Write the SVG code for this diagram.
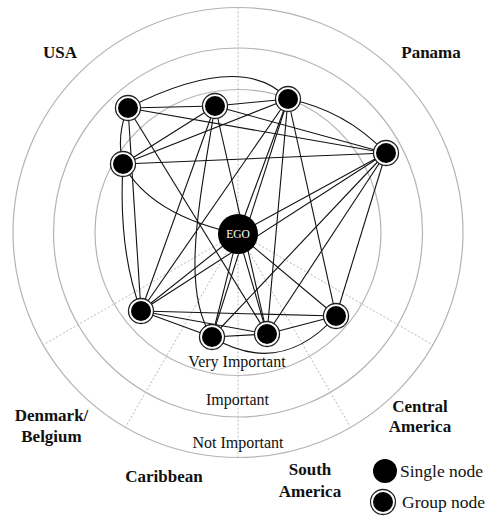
<svg xmlns="http://www.w3.org/2000/svg" width="490" height="521" viewBox="0 0 490 521">
  <style>
    .ring { fill: none; stroke: #b4b4b4; stroke-width: 1.2; }
    .sector { fill: none; stroke: #b8b8b8; stroke-width: 1; stroke-dasharray: 2 2; }
    .edge { fill: none; stroke: #111; stroke-width: 1.1; }
    .region { font-family: "Liberation Serif", "Times New Roman", serif; font-weight: bold; font-size: 17px; fill: #111; text-anchor: middle; }
    .level { font-family: "Liberation Serif", "Times New Roman", serif; font-size: 16px; fill: #111; text-anchor: middle; }
    .legend { font-family: "Liberation Serif", "Times New Roman", serif; font-size: 17.5px; fill: #111; }
    .halo { fill: #fff; stroke: #222; stroke-width: 1.3; }
    .dot { fill: #000; }
  </style>
  <defs>
    <g id="group-node">
      <circle class="halo" r="12.5"/>
      <circle class="dot" r="10"/>
    </g>
  </defs>
  <rect width="490" height="521" fill="#fff"/>

  <!-- importance rings -->
  <g id="rings">
    <circle class="ring" cx="238" cy="232.5" r="225"/>
    <circle class="ring" cx="238" cy="232.5" r="184.5"/>
    <circle class="ring" cx="238" cy="232.5" r="143"/>
  </g>

  <!-- region dividers -->
  <g id="sectors">
    <line class="sector" x1="238" y1="7.5" x2="238" y2="457.5"/>
    <line class="sector" x1="238" y1="232.5" x2="433" y2="345"/>
    <line class="sector" x1="238" y1="232.5" x2="350.5" y2="427"/>
    <line class="sector" x1="238" y1="232.5" x2="125.5" y2="427"/>
    <line class="sector" x1="238" y1="232.5" x2="43" y2="345"/>
  </g>

  <!-- ties -->
  <g id="connectors">
    <line class="edge" x1="128" y1="108" x2="215" y2="106"/>
    <path class="edge" d="M128,108 Q242,50 288,99"/>
    <path class="edge" d="M128,108 Q116,135 123,164"/>
    <line class="edge" x1="128" y1="108" x2="386" y2="153"/>
    <line class="edge" x1="128" y1="108" x2="141" y2="311"/>
    <line class="edge" x1="128" y1="108" x2="267" y2="334"/>

    <line class="edge" x1="215" y1="106" x2="288" y2="99"/>
    <line class="edge" x1="215" y1="106" x2="123" y2="164"/>
    <line class="edge" x1="215" y1="106" x2="386" y2="153"/>
    <line class="edge" x1="215" y1="106" x2="141" y2="311"/>
    <line class="edge" x1="215" y1="106" x2="267" y2="334"/>
    <path class="edge" d="M215,106 C200,200 180,290 212,337"/>

    <line class="edge" x1="288" y1="99" x2="123" y2="164"/>
    <path class="edge" d="M288,99 Q345,110 386,153"/>
    <line class="edge" x1="288" y1="99" x2="141" y2="311"/>
    <line class="edge" x1="288" y1="99" x2="212" y2="337"/>
    <line class="edge" x1="288" y1="99" x2="267" y2="334"/>
    <line class="edge" x1="288" y1="99" x2="336" y2="316"/>
    <line class="edge" x1="288" y1="99" x2="238" y2="234"/>

    <line class="edge" x1="123" y1="164" x2="386" y2="153"/>
    <path class="edge" d="M123,164 Q118,250 141,311"/>
    <path class="edge" d="M123,164 Q150,215 238,234"/>

    <line class="edge" x1="386" y1="153" x2="141" y2="311"/>
    <line class="edge" x1="386" y1="153" x2="212" y2="337"/>
    <line class="edge" x1="386" y1="153" x2="267" y2="334"/>
    <line class="edge" x1="386" y1="153" x2="336" y2="316"/>
    <line class="edge" x1="386" y1="153" x2="238" y2="234"/>

    <line class="edge" x1="141" y1="311" x2="212" y2="337"/>
    <line class="edge" x1="141" y1="311" x2="267" y2="334"/>
    <line class="edge" x1="141" y1="311" x2="336" y2="316"/>
    <line class="edge" x1="141" y1="311" x2="238" y2="234"/>

    <line class="edge" x1="212" y1="337" x2="267" y2="334"/>
    <path class="edge" d="M212,337 Q280,378 336,316"/>
    <line class="edge" x1="212" y1="337" x2="238" y2="234"/>

    <line class="edge" x1="267" y1="334" x2="336" y2="316"/>
    <line class="edge" x1="267" y1="334" x2="238" y2="234"/>

    <line class="edge" x1="336" y1="316" x2="238" y2="234"/>
  </g>

  <!-- actors -->
  <g id="node-a"><use href="#group-node" x="128" y="108"/></g>
  <g id="node-b"><use href="#group-node" x="215" y="106"/></g>
  <g id="node-c"><use href="#group-node" x="288" y="99"/></g>
  <g id="node-d"><use href="#group-node" x="123" y="164"/></g>
  <g id="node-e"><use href="#group-node" x="386" y="153"/></g>
  <g id="node-f"><use href="#group-node" x="141" y="311"/></g>
  <g id="node-g"><use href="#group-node" x="212" y="337"/></g>
  <g id="node-h"><use href="#group-node" x="267" y="334"/></g>
  <g id="node-i"><use href="#group-node" x="336" y="316"/></g>
  <g id="ego">
    <circle cx="238" cy="234" r="20" fill="#000"/>
    <text x="238" y="238" font-family="'Liberation Serif', 'Times New Roman', serif" font-size="11.5" fill="#fff" text-anchor="middle">EGO</text>
  </g>

  <!-- region names -->
  <g id="regions">
    <text class="region" x="60" y="58">USA</text>
    <text class="region" x="431" y="58">Panama</text>
    <text class="region" x="51.5" y="421">Denmark/</text>
    <text class="region" x="51.5" y="442">Belgium</text>
    <text class="region" x="164" y="482">Caribbean</text>
    <text class="region" x="310" y="475">South</text>
    <text class="region" x="310" y="497">America</text>
    <text class="region" x="420" y="412">Central</text>
    <text class="region" x="420" y="432">America</text>
  </g>

  <!-- ring names -->
  <g id="levels">
    <text class="level" x="237" y="367">Very Important</text>
    <text class="level" x="237.5" y="405">Important</text>
    <text class="level" x="238" y="448">Not Important</text>
  </g>

  <!-- key -->
  <g id="legend">
    <g id="legend-single">
      <circle cx="385" cy="471" r="12" fill="#000"/>
      <text class="legend" x="400" y="477">Single node</text>
    </g>
    <g id="legend-group">
      <use href="#group-node" x="383" y="502"/>
      <text class="legend" x="402" y="508">Group node</text>
    </g>
  </g>
</svg>
